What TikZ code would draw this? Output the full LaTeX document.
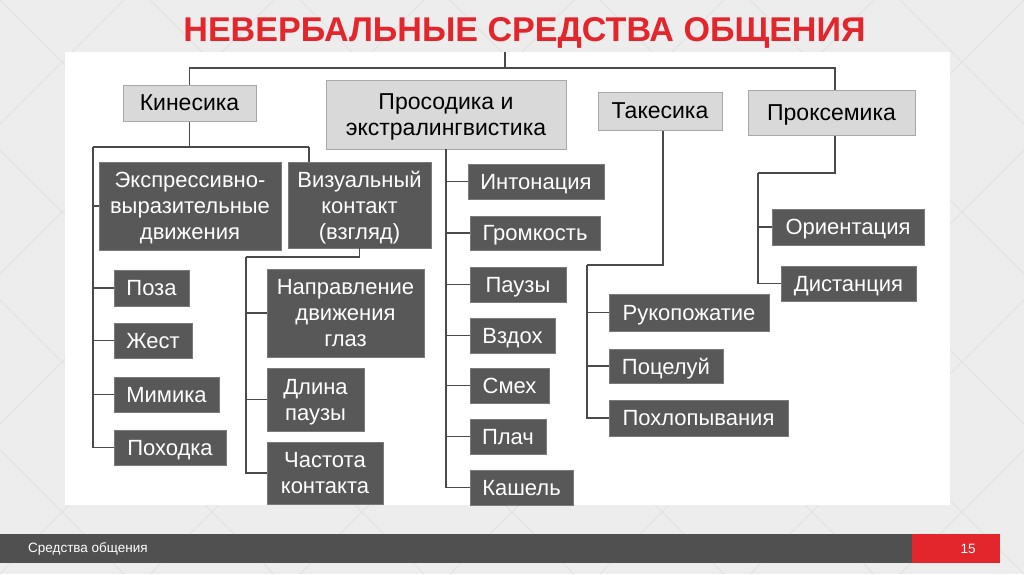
\documentclass[tikz,border=0pt]{standalone}
\usepackage{fontspec}
\usepackage{graphicx}
\setmainfont{Liberation Sans}
\definecolor{bgc}{HTML}{EDEDED}
\definecolor{bgl}{HTML}{E2E2E2}
\definecolor{darkbox}{HTML}{585858}
\definecolor{darkedge}{HTML}{7A7A7A}
\definecolor{lightbox}{HTML}{D9D9D9}
\definecolor{lightedge}{HTML}{A8A8A8}
\definecolor{linec}{HTML}{4A4A4A}
\definecolor{titlered}{HTML}{E3262B}
\definecolor{barc}{HTML}{505050}
\tikzset{
  topbox/.style={draw=lightedge, fill=lightbox, line width=1pt, inner sep=0pt,
    align=center, text=black, text depth=0pt, font=\fontsize{23}{26.5}\selectfont},
  subbox/.style={draw=darkedge, fill=darkbox, line width=0.8pt, inner sep=0pt,
    align=center, text=white, text depth=0pt, font=\fontsize{22}{26}\selectfont},
  conn/.style={draw=linec, line width=1.7pt},
  bartext/.style={text=white, font=\fontsize{13.5}{15}\selectfont, inner sep=0pt}
}
\begin{document}
\begin{tikzpicture}[x=1pt,y=-1pt]
\useasboundingbox (0,0) rectangle (1024,574);
% background
\fill[bgc] (0,0) rectangle (1024,574);
\begin{scope}
\clip (0,0) rectangle (1024,574);
\foreach \i in {-600,-450,...,1200} {
  \draw[bgl, line width=1pt] (\i,0) -- ++(574,574);
  \draw[bgl, line width=1pt] (\i+574,0) -- ++(-574,574);
}
\end{scope}
% panel
\fill[white] (65,52) rectangle (950,505);
% title
\node[anchor=base, text=titlered, inner sep=0pt] (title) at (524.5,41)
  {\resizebox{682pt}{24pt}{\bfseries НЕВЕРБАЛЬНЫЕ СРЕДСТВА ОБЩЕНИЯ}};
% bottom bar
\fill[barc] (0,534) rectangle (912,563);
\fill[titlered] (912,534) rectangle (1000,563);
\node[bartext, anchor=west] (foot) at (28,549) {Средства общения};
\node[bartext] (pagenum) at (968,549) {15};

% top-level boxes
\node[topbox, minimum width=133pt, minimum height=36pt] (kin) at (189.5,103) {Кинесика};
\node[topbox, minimum width=240pt, minimum height=69pt] (pros) at (446,114.5) {Просодика и\\экстралингвистика};
\node[topbox, minimum width=124pt, minimum height=38pt] (tak) at (660,111) {Такесика};
\node[topbox, minimum width=167pt, minimum height=45pt] (prox) at (831.5,112.5) {Проксемика};

% Kinesika children
\node[subbox, minimum width=182pt, minimum height=88pt] (expr) at (190,206) {Экспрессивно-\\выразительные\\движения};
\node[subbox, minimum width=143pt, minimum height=86pt] (viz) at (359.5,205) {Визуальный\\контакт\\(взгляд)};
\node[subbox, minimum width=75pt, minimum height=36pt] (poza) at (151.5,288) {Поза};
\node[subbox, minimum width=78pt, minimum height=35pt] (zhest) at (153,340.5) {Жест};
\node[subbox, minimum width=105pt, minimum height=35pt] (mimika) at (166.5,394.5) {Мимика};
\node[subbox, minimum width=112pt, minimum height=35pt] (pohodka) at (170,447.5) {Походка};

% Visual contact children
\node[subbox, minimum width=157pt, minimum height=88pt] (napr) at (345.5,313) {Направление\\движения\\глаз};
\node[subbox, minimum width=97pt, minimum height=63pt] (dlina) at (315.5,399.5) {Длина\\паузы};
\node[subbox, minimum width=116pt, minimum height=62pt] (chast) at (325,473) {Частота\\контакта};

% Prosodika children
\node[subbox, minimum width=136pt, minimum height=35pt] (inton) at (536,181.5) {Интонация};
\node[subbox, minimum width=130pt, minimum height=34pt] (grom) at (535,233) {Громкость};
\node[subbox, minimum width=96pt, minimum height=35pt] (pauzy) at (518,284.5) {Паузы};
\node[subbox, minimum width=85pt, minimum height=35pt] (vzdoh) at (512.5,335.5) {Вздох};
\node[subbox, minimum width=79pt, minimum height=35pt] (smeh) at (509.5,385.5) {Смех};
\node[subbox, minimum width=76pt, minimum height=35pt] (plach) at (508,436.5) {Плач};
\node[subbox, minimum width=103pt, minimum height=35pt] (kashel) at (521.5,487.5) {Кашель};

% Takesika children
\node[subbox, minimum width=160pt, minimum height=37pt] (ruk) at (689,312.5) {Рукопожатие};
\node[subbox, minimum width=114pt, minimum height=34pt] (poc) at (666,366) {Поцелуй};
\node[subbox, minimum width=179pt, minimum height=36pt] (poh) at (698.5,418) {Похлопывания};

% Proxemika children
\node[subbox, minimum width=152pt, minimum height=36pt] (orient) at (848,227) {Ориентация};
\node[subbox, minimum width=135pt, minimum height=35pt] (dist) at (848.5,283.5) {Дистанция};

% ---- connectors ----
\coordinate (top) at (505,52);
\coordinate (bus) at (505,68);
\draw[conn] (top) -- (bus);
\draw[conn] (bus) -| (kin.north);
\draw[conn] (bus) -| ([xshift=3.5pt]prox.north);

% Kinesika
\coordinate (kL) at (93,147);
\coordinate (kR) at (309,147);
\draw[conn] (kin.south) -- (kin.south |- kL);
\draw[conn] (kL) -- (kR);
\draw[conn] (kR) -- (kR |- viz.north);
\draw[conn] (kL) |- (pohodka.west);
\draw[conn] (kL |- expr.west) -- (expr.west);
\draw[conn] (kL |- poza.west) -- (poza.west);
\draw[conn] (kL |- zhest.west) -- (zhest.west);
\draw[conn] (kL |- mimika.west) -- (mimika.west);

% Visual contact
\coordinate (v1) at (246,257);
\draw[conn] (viz.south) |- (v1);
\draw[conn] (v1) |- (chast.west);
\draw[conn] (v1 |- napr.west) -- (napr.west);
\draw[conn] (v1 |- dlina.west) -- (dlina.west);

% Prosodika
\coordinate (p1) at (446,149);
\draw[conn] (p1) |- (kashel.west);
\draw[conn] (p1 |- inton.west) -- (inton.west);
\draw[conn] (p1 |- grom.west) -- (grom.west);
\draw[conn] (p1 |- pauzy.west) -- (pauzy.west);
\draw[conn] (p1 |- vzdoh.west) -- (vzdoh.west);
\draw[conn] (p1 |- smeh.west) -- (smeh.west);
\draw[conn] (p1 |- plach.west) -- (plach.west);

% Takesika
\coordinate (t1) at (587,265);
\draw[conn] ([xshift=3pt]tak.south) |- (t1);
\draw[conn] (t1) |- (poh.west);
\draw[conn] (t1 |- ruk.west) -- (ruk.west);
\draw[conn] (t1 |- poc.west) -- (poc.west);

% Proxemika
\coordinate (x1) at (758,173);
\draw[conn] ([xshift=3.5pt]prox.south) |- (x1);
\draw[conn] (x1) |- (dist.west);
\draw[conn] (x1 |- orient.west) -- (orient.west);
\end{tikzpicture}
\end{document}
